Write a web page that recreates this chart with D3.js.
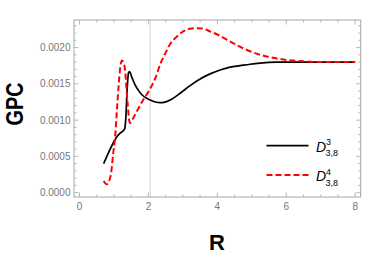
<!DOCTYPE html>
<html>
<head>
<meta charset="utf-8">
<script src="https://cdn.jsdelivr.net/npm/d3@7.9.0/dist/d3.min.js"></script>
<style>
  body { margin: 0; background: #fff; }
  svg { display: block; font-family: "Liberation Sans", Arial, sans-serif; }
</style>
</head>
<body>
<div id="chart"></div>
<script>
// black solid curve  D^3_{3,8}
const rBlack = [0.70, 0.85, 1.03, 1.10, 1.18, 1.31, 1.34, 1.38, 1.42, 1.45, 1.52, 1.61, 1.71, 1.81, 1.95,
                2.05, 2.20, 2.34, 2.48, 2.63, 2.92, 3.21, 3.50, 3.79, 4.08, 4.37, 4.66, 4.95, 5.24, 5.72,
                6.20, 7.00, 8.00];
const gpcBlack = [0.00040, 0.00056, 0.00073, 0.00078, 0.00082, 0.00088, 0.00100, 0.00140, 0.00165, 0.00167,
                  0.00159, 0.00149, 0.00141, 0.00135, 0.00130, 0.001277, 0.00125, 0.00124, 0.001248, 0.001277,
                  0.00137, 0.001476, 0.001567, 0.001637, 0.00169, 0.00173, 0.00175, 0.00177, 0.001785, 0.001798,
                  0.0018, 0.0018, 0.0018];

// red dashed curve  D^4_{3,8}
const rRed = [0.70, 0.79, 0.85, 0.92, 0.98, 1.03, 1.08, 1.13, 1.18, 1.23, 1.27, 1.32, 1.36, 1.40, 1.44,
              1.47, 1.55, 1.71, 1.85, 2.00, 2.20, 2.35, 2.50, 2.63, 2.80, 3.00, 3.20, 3.40, 3.60, 3.80,
              4.00, 4.27, 4.50, 4.75, 5.00, 5.25, 5.50, 6.00, 6.50, 7.00, 8.00];
const gpcRed = [0.00016, 0.000115, 0.00015, 0.00028, 0.00055, 0.00075, 0.00110, 0.00144, 0.00172, 0.00182,
                0.00180, 0.00170, 0.00145, 0.00121, 0.00100, 0.00096, 0.00102, 0.00116, 0.00128, 0.00139,
                0.00158, 0.00178, 0.00193, 0.00205, 0.00214, 0.00222, 0.00226, 0.002268, 0.00226, 0.00222,
                0.00218, 0.00211, 0.00205, 0.00199, 0.00194, 0.00190, 0.00187, 0.00183, 0.00181, 0.00180,
                0.00180];

const xMajor = [0, 2, 4, 6, 8];
const yMajor = [0, 0.0005, 0.0010, 0.0015, 0.0020];
const gridR = 2.05;

const W = 382, H = 255;
const svg = d3.select("#chart").append("svg").attr("width", W).attr("height", H);

const x = d3.scaleLinear().domain([-0.16, 8.16]).range([74, 360.7]);
const y = d3.scaleLinear().domain([-0.00006, 0.00238]).range([197, 20]);

const frameColor = "#a6a6a6";
const labelColor = "#777";

// vertical grid line
svg.append("line")
  .attr("x1", x(gridR)).attr("x2", x(gridR))
  .attr("y1", y.range()[1]).attr("y2", y.range()[0])
  .attr("stroke", "#c8c8c8").attr("stroke-width", 0.8);

// frame
svg.append("rect")
  .attr("x", x.range()[0]).attr("y", y.range()[1])
  .attr("width", x.range()[1] - x.range()[0])
  .attr("height", y.range()[0] - y.range()[1])
  .attr("fill", "none").attr("stroke", frameColor).attr("stroke-width", 1);

// ticks (inward, all four sides)
const xMinor = d3.range(0, 8.01, 0.5).filter(v => !xMajor.includes(v));
const yMinor = d3.range(0, 0.00236, 0.0001).filter(v => !yMajor.some(m => Math.abs(m - v) < 1e-9));
const tk = svg.append("g").attr("stroke", frameColor).attr("stroke-width", 0.8);
function xTicks(vals, len) {
  vals.forEach(v => {
    tk.append("line").attr("x1", x(v)).attr("x2", x(v)).attr("y1", y.range()[0]).attr("y2", y.range()[0] - len);
    tk.append("line").attr("x1", x(v)).attr("x2", x(v)).attr("y1", y.range()[1]).attr("y2", y.range()[1] + len);
  });
}
function yTicks(vals, len) {
  vals.forEach(v => {
    tk.append("line").attr("y1", y(v)).attr("y2", y(v)).attr("x1", x.range()[0]).attr("x2", x.range()[0] + len);
    tk.append("line").attr("y1", y(v)).attr("y2", y(v)).attr("x1", x.range()[1]).attr("x2", x.range()[1] - len);
  });
}
xTicks(xMajor, 4.5); xTicks(xMinor, 2.5);
yTicks(yMajor, 4.5); yTicks(yMinor, 2.5);

// tick labels
svg.append("g").selectAll("text").data(xMajor).join("text")
  .attr("x", d => x(d)).attr("y", 210)
  .attr("text-anchor", "middle").attr("font-size", 10).attr("fill", labelColor)
  .text(d => d);
svg.append("g").selectAll("text").data(yMajor).join("text")
  .attr("x", 70.5).attr("y", d => y(d) + 3.5)
  .attr("text-anchor", "end").attr("font-size", 10).attr("fill", labelColor)
  .text(d => d3.format(".4f")(d));

// axis labels
svg.append("text").attr("transform", `translate(22.7,104) rotate(-90)`)
  .attr("text-anchor", "middle").attr("font-size", 23).attr("font-weight", "bold")
  .attr("textLength", 43).attr("lengthAdjust", "spacingAndGlyphs")
  .text("GPC");
svg.append("text").attr("x", x(4) - 0.5).attr("y", 250.3)
  .attr("text-anchor", "middle").attr("font-size", 22).attr("font-weight", "bold")
  .text("R");

// curves
const line = d3.line().x(d => x(d[0])).y(d => y(d[1])).curve(d3.curveMonotoneX);
const plot = svg.append("g");
plot.append("path").datum(d3.zip(rBlack, gpcBlack))
  .attr("d", line).attr("fill", "none").attr("stroke", "#000").attr("stroke-width", 1.7)
  .attr("stroke-linejoin", "round");
plot.append("path").datum(d3.zip(rRed, gpcRed))
  .attr("d", line).attr("fill", "none").attr("stroke", "#ff0000").attr("stroke-width", 2)
  .attr("stroke-dasharray", "6,3");

// legend
const legend = [
  { sup: "3", y: 145.7, dash: null, color: "#000", w: 1.7 },
  { sup: "4", y: 175, dash: "6,3", color: "#ff0000", w: 2 }
];
legend.forEach(d => {
  svg.append("line").attr("x1", 266.5).attr("x2", 308.5).attr("y1", d.y).attr("y2", d.y)
    .attr("stroke", d.color).attr("stroke-width", d.w).attr("stroke-dasharray", d.dash);
  svg.append("text").attr("x", 316).attr("y", d.y + 6).attr("font-size", 14)
    .attr("font-style", "italic").text("D");
  svg.append("text").attr("x", 326).attr("y", d.y - 0.5).attr("font-size", 9).text(d.sup);
  svg.append("text").attr("x", 325.5).attr("y", d.y + 10.5).attr("font-size", 9).text("3,8");
});
</script>
</body>
</html>
